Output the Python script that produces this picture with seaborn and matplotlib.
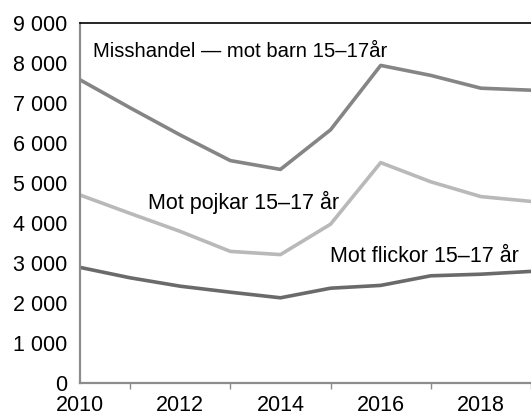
import matplotlib
matplotlib.use("Agg")
import matplotlib.pyplot as plt
import seaborn as sns
import pandas as pd

years = [2010, 2011, 2012, 2013, 2014, 2015, 2016, 2017, 2018, 2019]
misshandel = [7580, 6880, 6200, 5560, 5340, 6330, 7940, 7690, 7370, 7320]
pojkar = [4700, 4240, 3790, 3290, 3210, 3970, 5510, 5030, 4660, 4540]
flickor = [2890, 2630, 2420, 2270, 2130, 2370, 2440, 2680, 2720, 2790]

labels = ["Misshandel \u2014 mot barn 15\u201317år", "Mot pojkar 15\u201317 år", "Mot flickor 15\u201317 år"]
colors = ["#858585", "#b9b9b9", "#6a6a6a"]

df = pd.DataFrame({"year": years * 3,
                   "value": misshandel + pojkar + flickor,
                   "series": [labels[0]] * 10 + [labels[1]] * 10 + [labels[2]] * 10})

sns.set_theme(style="white")
plt.rcParams['font.family'] = ['Liberation Sans', 'DejaVu Sans']
FS = 15.5

fig = plt.figure(figsize=(5.31, 4.17), dpi=100)
ax = fig.add_axes([80/531, 1 - 383/417, 1 - 80/531, (383 - 23)/417])

sns.lineplot(data=df, x="year", y="value", hue="series", palette=dict(zip(labels, colors)),
             linewidth=2.6, legend=False, ax=ax)

ax.set_xlim(2010, 2019)
ax.set_ylim(0, 9000)
ax.set_xticks([2010, 2012, 2014, 2016, 2018])
ax.set_xticks(years, minor=True)
ax.set_yticks(range(0, 9001, 1000))
ax.set_yticklabels([f"{v:,}".replace(",", " ") for v in range(0, 9001, 1000)], fontsize=FS)
ax.set_xticklabels(["2010", "2012", "2014", "2016", "2018"], fontsize=FS)
ax.set_xlabel("")
ax.set_ylabel("")

for s in ["left", "bottom"]:
    ax.spines[s].set_color("#8c8c8c")
    ax.spines[s].set_linewidth(1.6)
ax.spines["top"].set_color("black")
ax.spines["top"].set_linewidth(1.2)
ax.spines["right"].set_visible(False)

ax.tick_params(axis="both", which="both", direction="out", color="#8c8c8c", width=1, labelcolor="black")
ax.tick_params(axis="y", length=5, pad=4)
ax.tick_params(axis="x", which="major", length=4, pad=4.5)
ax.tick_params(axis="x", which="minor", length=4, bottom=True)

ax.text(2010.26, 8280, labels[0], fontsize=14.6, va="center", ha="left", color="black")
ax.text(2011.36, 4520, labels[1], fontsize=FS, va="center", ha="left", color="black")
ax.text(2014.99, 3150, labels[2], fontsize=FS, va="center", ha="left", color="black")

fig.savefig("out.png", dpi=100)
